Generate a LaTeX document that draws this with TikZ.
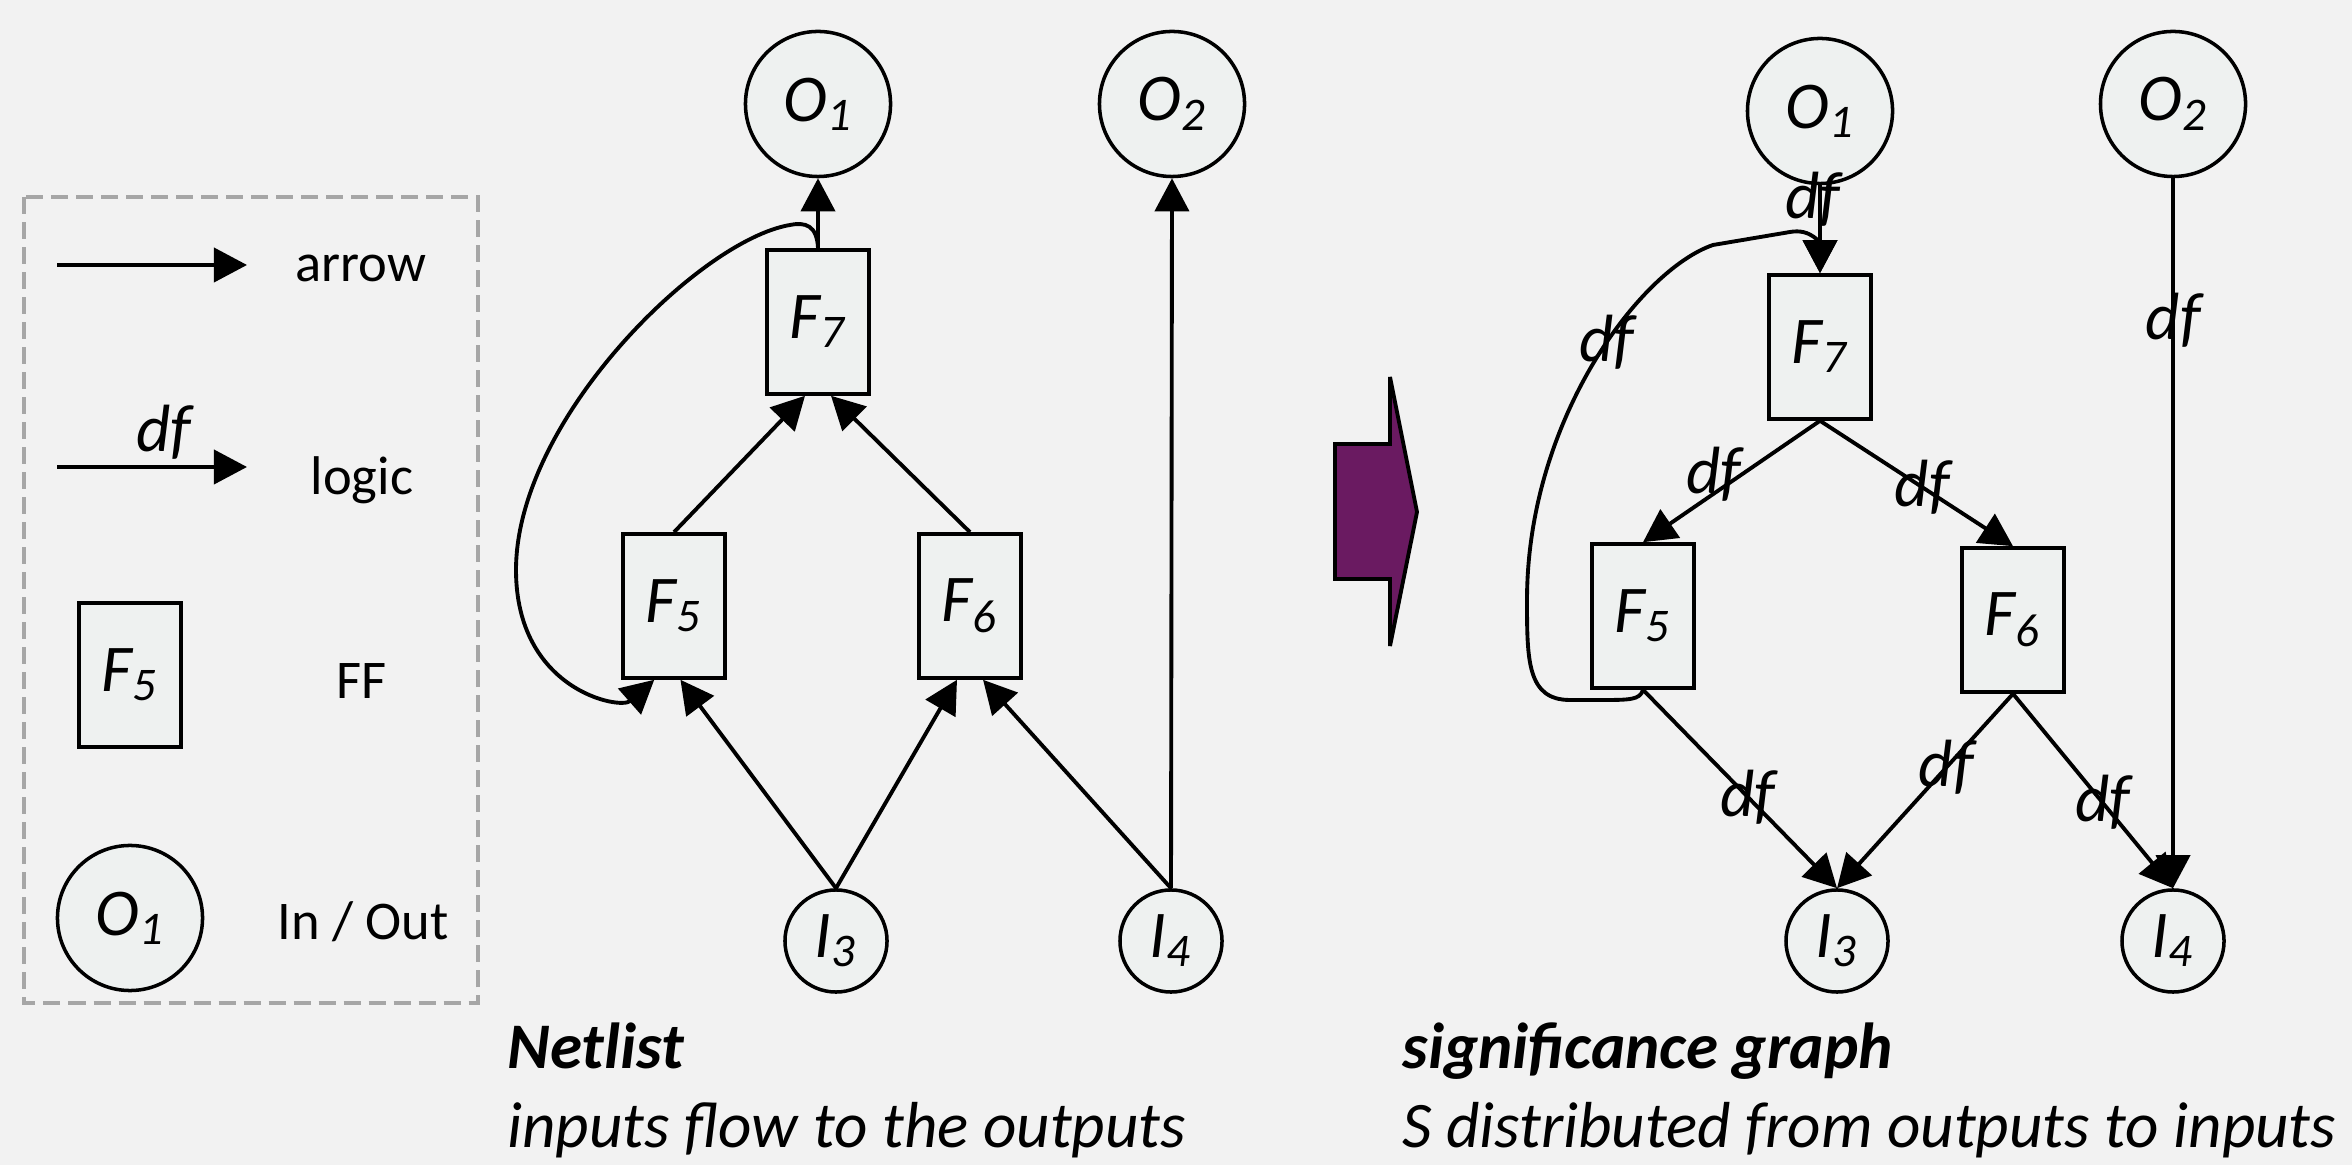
\documentclass[tikz,border=0pt]{standalone}
\usepackage{fontspec}
\setmainfont{Carlito}
\usepackage{xcolor}
\usetikzlibrary{arrows.meta}
\definecolor{bgcol}{RGB}{242,242,242}
\definecolor{nodecol}{RGB}{238,241,240}
\definecolor{boxgray}{RGB}{166,166,166}
\definecolor{arrowpurple}{RGB}{106,26,97}

\begin{document}
\begin{tikzpicture}[x=0.01cm, y=-0.01cm,
    every node/.style={font=\fontsize{19}{22}\selectfont\itshape},
    ionode/.style={circle, draw, line width=1pt, fill=nodecol, minimum size=1.45cm, inner sep=0pt},
    innode/.style={ionode, minimum size=1.02cm},
    ffnode/.style={rectangle, draw, line width=1pt, fill=nodecol, minimum width=1.02cm, minimum height=1.44cm, inner sep=0pt},
    arr/.style={line width=1.1pt, -{Triangle[length=3.3mm, width=3.4mm]}},
    lbl/.style={inner sep=0pt},
    legtext/.style={font=\fontsize{15.5}{18}\selectfont},
    captext/.style={anchor=base west, font=\fontsize{18.5}{22}\selectfont\itshape}]

    % background and page size
    \fill[bgcol] (0,0) rectangle (2352,1165);
    \useasboundingbox (0,0) rectangle (2352,1165);

    % legend
    \draw[boxgray, dash pattern=on 0.17cm off 0.08cm, line width=1.1pt] (24,197) rectangle (478,1003);
    \coordinate (arrA) at (57,265);
    \coordinate (arrB) at (247,265);
    \draw[arr] (arrA) -- (arrB);
    \node[legtext] (tarrow) at (361,268) {arrow};
    \coordinate (logA) at (57,467);
    \coordinate (logB) at (247,467);
    \draw[arr] (logA) -- node[lbl, pos=0.56, yshift=0.35cm] {df} (logB);
    \node[legtext] (tlogic) at (362,480) {logic};
    \node[ffnode] (legF) at (130,675) {F\textsubscript{5}};
    \node[legtext] (tff) at (362,681) {FF};
    \node[ionode] (legO) at (130,918) {O\textsubscript{1}};
    \node[legtext] (tio) at (363,922) {In / Out};

    % netlist nodes
    \node[ionode] (O1) at (818,104) {O\textsubscript{1}};
    \node[ionode] (O2) at (1172,104) {O\textsubscript{2}};
    \node[ffnode] (F7) at (818,322) {F\textsubscript{7}};
    \node[ffnode] (F5) at (674,606) {F\textsubscript{5}};
    \node[ffnode] (F6) at (970,606) {F\textsubscript{6}};
    \node[innode] (I3) at (836,941) {I\textsubscript{3}};
    \node[innode] (I4) at (1171,941) {I\textsubscript{4}};

    % netlist arrows
    \draw[arr] (F7.north) -- (O1.south);
    \draw[arr] (F5.north) -- (F7.260);
    \draw[arr] (F6.north) -- (F7.280);
    \draw[arr] (I3.north) -- (F5.275);
    \draw[arr] (I3.north) -- (F6.260);
    \draw[arr] (I4.north) -- (F6.280);
    \draw[arr] (I4.north) -- (O2.south);
    \draw[arr] (F7.north) .. controls (817,225) and (805,222) .. (790,225)
        .. controls (700,240) and (516,420) .. (516,570)
        .. controls (516,690) and (620,710) .. (F5.255);

    % the big arrow
    \draw[line width=1.1pt, fill=arrowpurple] (1335,444) -- (1390,444) -- (1390,377) -- (1417,512)
        -- (1390,646) -- (1390,579) -- (1335,579) -- cycle;

    % significance graph nodes
    \node[ionode] (O1r) at (1820,111) {O\textsubscript{1}};
    \node[ionode] (O2r) at (2173,104) {O\textsubscript{2}};
    \node[ffnode] (F7r) at (1820,347) {F\textsubscript{7}};
    \node[ffnode] (F5r) at (1643,616) {F\textsubscript{5}};
    \node[ffnode] (F6r) at (2013,620) {F\textsubscript{6}};
    \node[innode] (I3r) at (1837,941) {I\textsubscript{3}};
    \node[innode] (I4r) at (2173,941) {I\textsubscript{4}};

    % significance graph arrows
    \draw[arr] (O1r.south) -- node[lbl, pos=0.16, xshift=-0.07cm] {df} (F7r.north);
    \draw[arr] (F7r.south) -- node[lbl, pos=0.6, yshift=0.19cm] {df} (F5r.north);
    \draw[arr] (F7r.south) -- node[lbl, pos=0.53] {df} (F6r.north);
    \draw[arr] (F5r.south) -- node[lbl, pos=0.54] {df} (I3r.north);
    \draw[arr] (F6r.south) -- node[lbl, pos=0.38] {df} (I3r.north);
    \draw[arr] (F6r.south) -- node[lbl, pos=0.56] {df} (I4r.north);
    \draw[arr] (O2r.south) -- node[lbl, pos=0.2] {df} (I4r.north);
    \draw[arr] (F5r.south) .. controls (1640,700) and (1630,700) .. (1600,700) -- (1570,700)
        .. controls (1527,700) and (1527,660) .. (1527,600)
        .. controls (1527,420) and (1640,270) .. node[lbl, pos=0.56] {df} (1713,245)
        -- (1790,232) .. controls (1812,228) and (1820,245) .. (F7r.north);

    % captions
    \node[captext] (capA) at (495,1068) {\bfseries Netlist};
    \node[captext] (capB) at (495,1147) {inputs flow to the outputs};
    \node[captext] (capC) at (1390,1068) {\bfseries significance graph};
    \node[captext] (capD) at (1390,1147) {S distributed from outputs to inputs};
\end{tikzpicture}
\end{document}
